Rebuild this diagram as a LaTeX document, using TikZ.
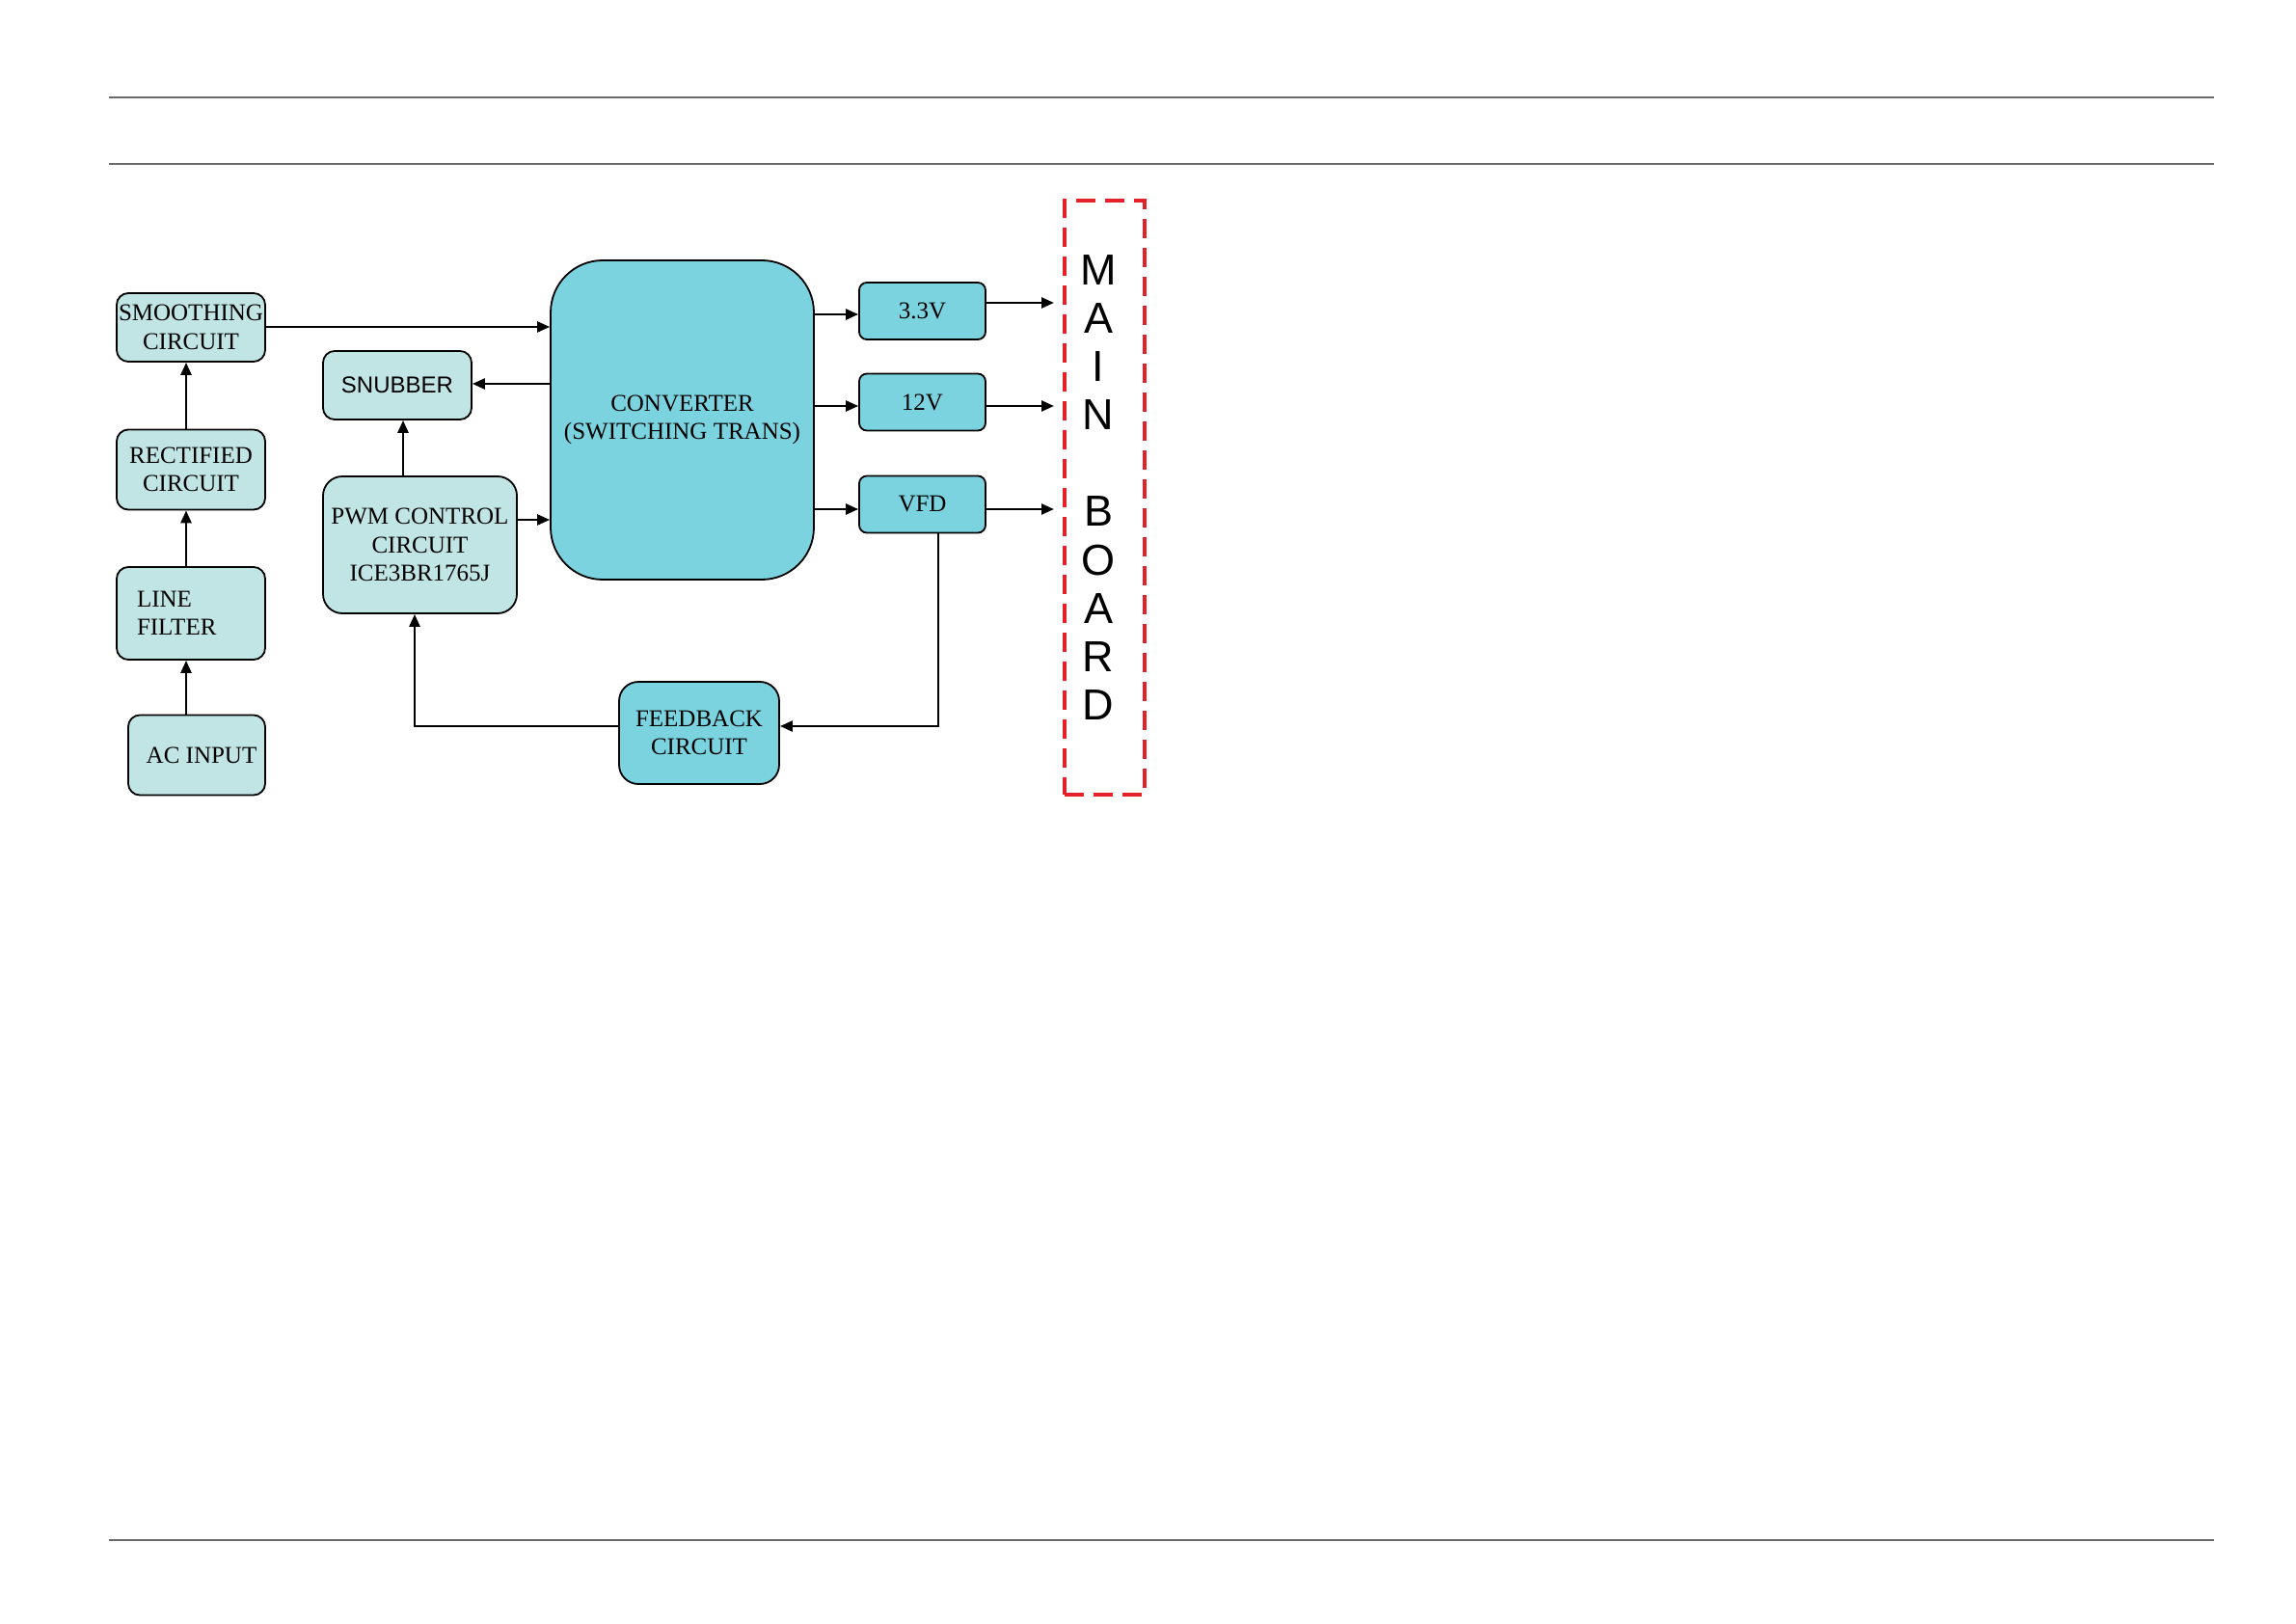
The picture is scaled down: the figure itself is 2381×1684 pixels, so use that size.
\documentclass[tikz,border=0pt]{standalone}
\usepackage{fontspec}
\setmainfont{Liberation Serif}
\setsansfont{Liberation Sans}
\usetikzlibrary{arrows.meta,calc}
\definecolor{lightbox}{RGB}{192,229,228}
\definecolor{darkbox}{RGB}{122,211,223}
\definecolor{mbred}{RGB}{228,32,40}
\definecolor{rulegray}{RGB}{105,105,105}
\begin{document}
\begin{tikzpicture}[x=0.5pt,y=-0.5pt,
  box/.style={draw=black, line width=0.9pt, rounded corners=6pt, align=center,
    font=\fontsize{12.5}{14.8}\selectfont, inner sep=0pt},
  lbox/.style={box, fill=lightbox},
  dbox/.style={box, fill=darkbox},
  conn/.style={line width=1.25pt, -{Triangle[length=6.5pt,width=5.5pt]}},
  rule/.style={draw=rulegray, line width=0.75pt},
  mbletter/.style={font=\sffamily\fontsize{22.5}{22.5}\selectfont, inner sep=0pt}
]
\useasboundingbox (0,0) rectangle (2381,1684);

% page rules
\coordinate (r1a) at (113,101);  \coordinate (r1b) at (2296,101);
\coordinate (r2a) at (113,170);  \coordinate (r2b) at (2296,170);
\coordinate (r3a) at (113,1597); \coordinate (r3b) at (2296,1597);
\draw[rule] (r1a) -- (r1b);
\draw[rule] (r2a) -- (r2b);
\draw[rule] (r3a) -- (r3b);

% left column
\node[lbox, minimum width=77pt, minimum height=35.5pt] (smooth) at (198,339.5) {SMOOTHING\\CIRCUIT};
\node[lbox, minimum width=77pt, minimum height=41.5pt] (rect) at (198,487) {RECTIFIED\\CIRCUIT};
\node[lbox, minimum width=77pt, minimum height=48pt, text width=56pt, align=left, inner xsep=10.5pt] (filter) at (198,636) {LINE\\FILTER};
\node[lbox, minimum width=71pt, minimum height=41.5pt] (ac) at (204,783) {\hspace{5pt}AC INPUT};

% middle
\node[lbox, minimum width=77pt, minimum height=35.5pt, font=\sffamily\fontsize{12}{14}\selectfont] (snub) at (412,399.5) {SNUBBER};
\node[lbox, minimum width=100.5pt, minimum height=71pt, rounded corners=10pt] (pwm) at (435.5,565) {PWM CONTROL\\CIRCUIT\\ICE3BR1765J};
\node[dbox, minimum width=136.5pt, minimum height=165.5pt, rounded corners=27pt] (conv) at (707.5,435.5) {CONVERTER\\(SWITCHING TRANS)};
\node[dbox, minimum width=83pt, minimum height=53pt, rounded corners=10pt] (fb) at (725,760) {FEEDBACK\\CIRCUIT};

% outputs
\node[dbox, minimum width=65.5pt, minimum height=29.5pt, rounded corners=4pt] (v33) at (956.5,322.5) {3.3V};
\node[dbox, minimum width=65.5pt, minimum height=29.5pt, rounded corners=4pt] (v12) at (956.5,417) {12V};
\node[dbox, minimum width=65.5pt, minimum height=29.5pt, rounded corners=4pt] (vfd) at (956.5,523) {VFD};

% main board
\node[draw=mbred, dash pattern=on 10pt off 5pt, line width=1.6pt, minimum width=41.5pt, minimum height=308pt, inner sep=0pt] (mb) at (1145.5,516) {};
\foreach \L [count=\i from 0] in {M,A,I,N,{},B,O,A,R,D}{
  \node[mbletter] (mbl\i) at (1139,{280+50.1*\i}) {\L};
}
\coordinate (mb33) at (1093,314);
\coordinate (mb12) at (1093,421);
\coordinate (mbvfd) at (1093,528);

% connectors
\draw[conn] (ac.north -| 193,0) -- (filter.south -| 193,0);
\draw[conn] (filter.north -| 193,0) -- (rect.south -| 193,0);
\draw[conn] (rect.north -| 193,0) -- (smooth.south -| 193,0);
\draw[conn] (smooth.east |- 0,339) -- (conv.west |- 0,339);
\draw[conn] (conv.west |- 0,398) -- (snub.east |- 0,398);
\draw[conn] (pwm.east |- 0,539) -- (conv.west |- 0,539);
\draw[conn] (pwm.north -| 418,0) -- (snub.south -| 418,0);
\draw[conn] (conv.east |- 0,326) -- (v33.west |- 0,326);
\draw[conn] (conv.east |- 0,421) -- (v12.west |- 0,421);
\draw[conn] (conv.east |- 0,528) -- (vfd.west |- 0,528);
\draw[conn] (v33.east |- mb33) -- (mb33);
\draw[conn] (v12.east |- mb12) -- (mb12);
\draw[conn] (vfd.east |- mbvfd) -- (mbvfd);
\draw[conn] (vfd.south -| 973,0) |- (fb.east |- 0,753);
\draw[conn] (fb.west |- 0,753) -| (pwm.south -| 430,0);
\end{tikzpicture}
\end{document}
